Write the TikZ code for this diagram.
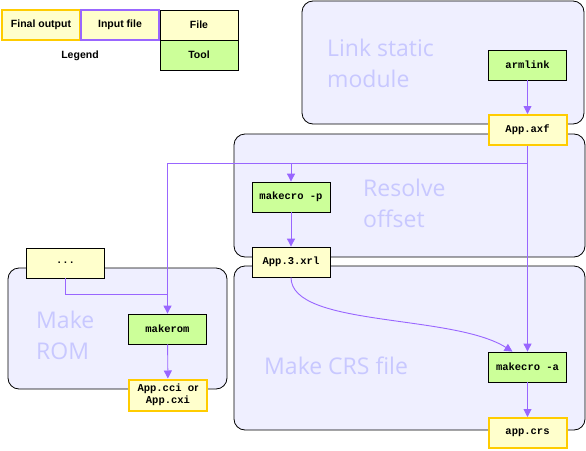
\documentclass[tikz,border=0pt]{standalone}
\usepackage{fontspec}
\setmainfont{Liberation Sans}
\newfontfamily\boxmono{Liberation Mono}
\newfontfamily\grpfont{Open Sans}
\usepackage{tikz}
\usetikzlibrary{positioning,arrows.meta}

\definecolor{filefill}{HTML}{FFFFCC}
\definecolor{toolfill}{HTML}{CCFF99}
\definecolor{grpfill}{HTML}{EFEFFF}
\definecolor{grptext}{HTML}{C8C8FF}
\definecolor{goldline}{HTML}{FFCC00}
\definecolor{flow}{HTML}{9966FF}

\tikzset{
  box/.style={draw=black, line width=0.8pt, minimum width=78pt, minimum height=30pt, inner sep=1pt,
    font=\boxmono\bfseries\fontsize{10.5}{12.5}\selectfont},
  file/.style={box, fill=filefill},
  tool/.style={box, fill=toolfill},
  final/.style={file, draw=goldline, line width=2pt},
  legendtxt/.style={font=\bfseries\fontsize{10.5}{12.5}\selectfont},
  grp/.style={draw=black, fill=grpfill, rounded corners=11pt, line width=0.8pt},
  grplabel/.style={anchor=base west, inner sep=0pt, align=left, text=grptext,
    font=\grpfont\fontsize{23}{31}\selectfont},
  flowline/.style={draw=flow, line width=0.9pt},
  flowarrow/.style={flowline, -{Triangle[width=8pt,length=8pt]}},
}

\begin{document}
\begin{tikzpicture}[x=1pt, y=-1pt]
  \useasboundingbox (0,0) rectangle (586,450);

  % Legend
  \node[final, legendtxt] (lfinal) at (41,25) {Final output};
  \node[file, draw=flow, line width=2pt, legendtxt] (linput) at (120,25) {Input file};
  \node[file, legendtxt] (lfile) at (199,25) {File};
  \node[tool, legendtxt] (ltool) at (199,55) {Tool};
  \node[legendtxt] (llegend) at (80,56) {Legend};

  % Groups
  \draw[grp] (302,1) rectangle (584,124);
  \node[grplabel] (glink) at (327,87) {Link static\\module};
  \draw[grp] (234,134) rectangle (585,257);
  \node[grplabel] (gresolve) at (363,227) {Resolve\\offset};
  \draw[grp] (234,266) rectangle (585,430);
  \node[grplabel] (gcrs) at (264,374) {Make CRS file};
  \draw[grp] (8,268) rectangle (227,389);
  \node[grplabel] (grom) at (36,359) {Make\\ROM};

  % Files and tools
  \node[tool] (armlink) at (527.5,65) {armlink};
  \node[final] (axf) at (527.5,130) {App.axf};
  \node[tool] (makecrop) at (291,197) {makecro -p};
  \node[file] (xrl) at (291,262) {App.3.xrl};
  \node[tool] (makecroa) at (527.5,367) {makecro -a};
  \node[final] (crs) at (527.5,433) {app.crs};
  \node[file] (dots) at (65.5,263) {...};
  \node[tool] (makerom) at (167.5,329) {makerom};
  \node[final, minimum height=31pt, align=center] (cci) at (168,395) {App.cci {\rmfamily or}\\[-1pt]App.cxi};

  % Connectors
  \coordinate (busrow) at (0,163);
  \coordinate (romrow) at (0,294);
  \draw[flowarrow] (armlink) -- (axf);
  \draw[flowarrow] (axf.south) -- (makecroa.north);
  \draw[flowline] (axf.south |- busrow) -- (makerom.north |- busrow);
  \draw[flowarrow] (makecrop.north |- busrow) -- (makecrop.north);
  \draw[flowarrow] (makerom.north |- busrow) -- (makerom.north);
  \draw[flowarrow] (makecrop) -- (xrl);
  \draw[flowarrow] (xrl.south) .. controls +(0,50) and +(-60,-38) .. ([xshift=-15pt]makecroa.north);
  \draw[flowline] (dots.south) |- (makerom.north |- romrow);
  \draw[flowarrow] (makerom) -- (cci);
  \draw[flowarrow] (makecroa) -- (crs);
\end{tikzpicture}
\end{document}
